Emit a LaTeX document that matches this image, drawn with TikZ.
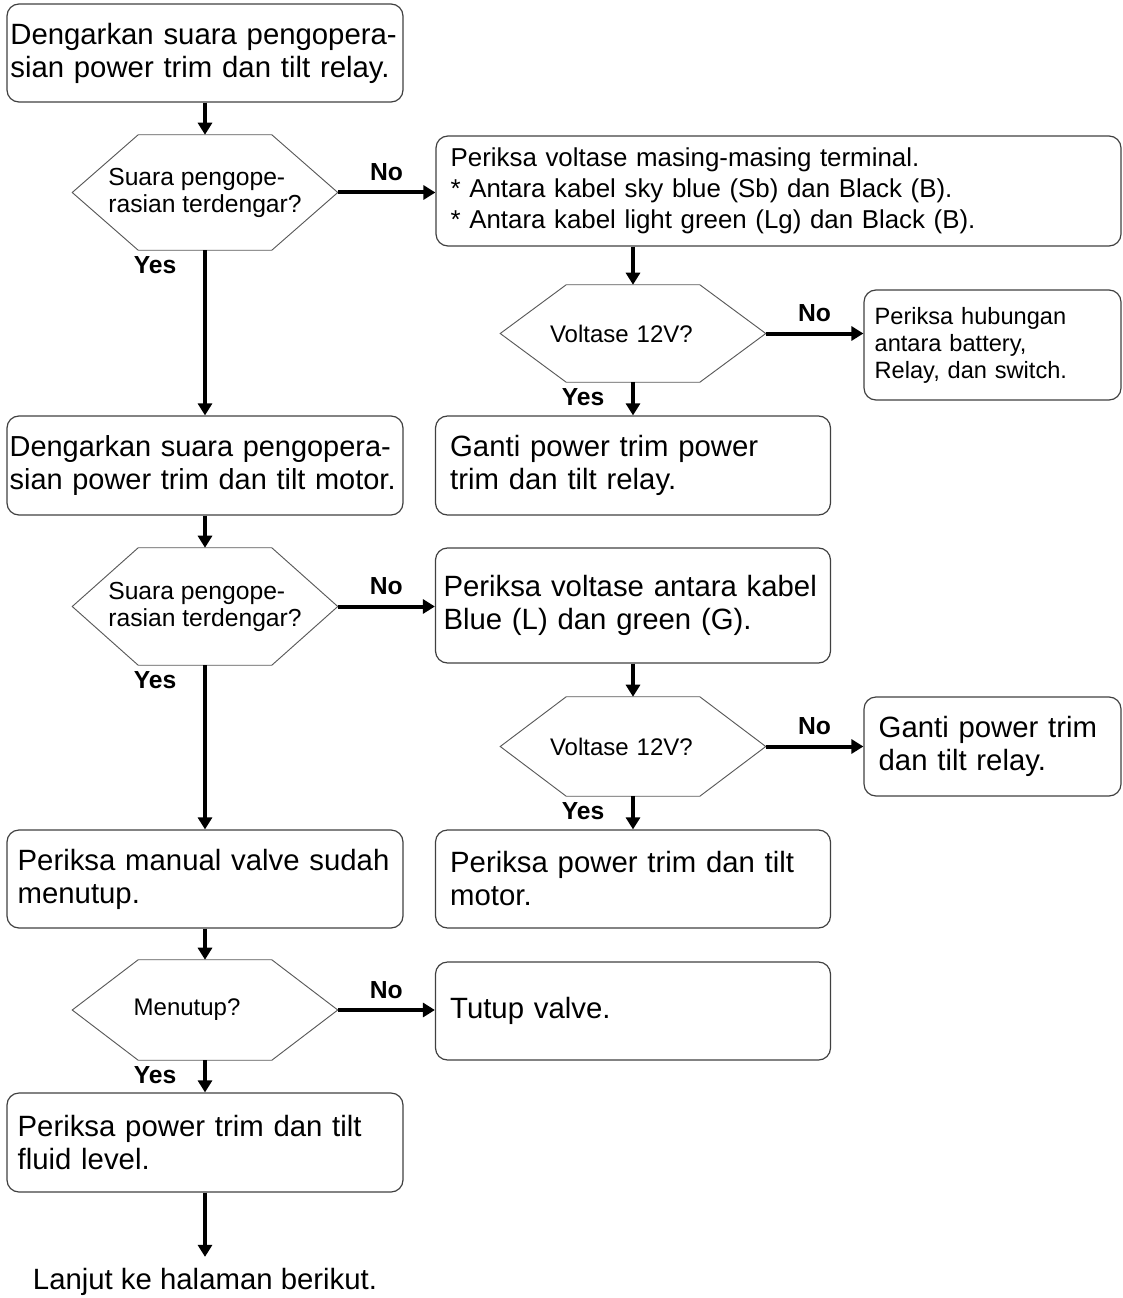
\documentclass[tikz,border=0pt]{standalone}
\usepackage{fontspec}
\setmainfont{Liberation Sans}
\usetikzlibrary{arrows.meta, calc}
\hyphenpenalty=10000
\exhyphenpenalty=10000

\begin{document}
\begin{tikzpicture}[x=0.75pt, y=-0.75pt,
  box/.style={draw=black!75, line width=0.9pt, rounded corners=9pt, align=left, inner ysep=2pt, font=\fontsize{22}{24.75}\selectfont},
  hexa/.style={inner sep=0pt, minimum width=198.75pt, align=left, font=\fontsize{18}{20.25}\selectfont},
  hexline/.style={draw=black!65, line width=0.7pt},
  flow/.style={line width=3pt, -{Triangle[length=9pt, width=10.5pt]}},
  lbl/.style={font=\fontsize{18.5}{20}\selectfont\bfseries, inner sep=3pt}
]
\useasboundingbox (0,0) rectangle (1123,1298);

% ---- Relay ----
\node[box, text width=292pt, inner xsep=2.5pt, minimum height=73.5pt] (relay) at (205,53) {Dengarkan suara pengopera-\\sian power trim dan tilt relay.};
\node[hexa, minimum height=86.25pt, font=\fontsize{18.5}{20.25}\selectfont] (tanya1) at (205,192.5) {Suara pengope-\\rasian terdengar?};
\node[box, text width=491.75pt, inner xsep=11pt, minimum height=82.5pt, font=\fontsize{19.4}{23.25}\selectfont] (volt1) at (778.5,191) {Periksa voltase masing-masing terminal.\\{}* Antara kabel sky blue (Sb) dan Black (B).\\{}* Antara kabel light green (Lg) dan Black (B).};
\node[hexa, text width=124.5pt, minimum height=72.75pt] (tanya2) at (633,333.5) {Voltase 12V?};
\node[box, text width=176.75pt, inner xsep=8pt, minimum height=82.5pt, font=\fontsize{17.7}{20.25}\selectfont] (hubung) at (992.5,345) {Periksa hubungan\\antara battery,\\Relay, dan switch.};
\node[box, text width=274.25pt, inner xsep=11pt, minimum height=74.25pt] (gantirelay1) at (633,465.5) {Ganti power trim power\\trim dan tilt relay.};

% ---- Motor ----
\node[box, text width=293pt, inner xsep=2pt, minimum height=74.25pt, font=\fontsize{21.7}{24.75}\selectfont] (motor) at (205,465.5) {Dengarkan suara pengopera-\\sian power trim dan tilt motor.};
\node[hexa, minimum height=87.75pt, font=\fontsize{18.5}{20.25}\selectfont] (tanya3) at (205,606.5) {Suara pengope-\\rasian terdengar?};
\node[box, text width=284.25pt, inner xsep=6pt, minimum height=86.25pt] (volt2) at (633,605.5) {Periksa voltase antara kabel\\Blue (L) dan green (G).};
\node[hexa, text width=124.5pt, minimum height=74.25pt] (tanya4) at (633,746.5) {Voltase 12V?};
\node[box, text width=170.75pt, inner xsep=11pt, minimum height=74.25pt] (gantirelay2) at (992.5,746.5) {Ganti power trim\\dan tilt relay.};
\node[box, text width=274.25pt, inner xsep=11pt, minimum height=73.5pt] (cekmotor) at (633,879) {Periksa power trim dan tilt\\motor.};

% ---- Manual valve ----
\node[box, text width=281pt, inner xsep=8pt, minimum height=73.5pt] (valve) at (205,879) {Periksa manual valve sudah\\menutup.};
\node[hexa, text width=107pt, minimum height=75pt] (tanya5) at (205,1010) {Menutup?};
\node[box, text width=274.25pt, inner xsep=11pt, minimum height=73.5pt] (tutup) at (633,1011) {Tutup valve.};
\node[box, text width=281pt, inner xsep=8pt, minimum height=74.25pt] (fluid) at (205,1142.5) {Periksa power trim dan tilt\\fluid level.};
\node[font=\fontsize{22}{24.75}\selectfont, inner xsep=0pt, inner ysep=8.4pt] (lanjut) at (205,1282) {Lanjut ke halaman berikut.};

% ---- Segi enam ----
\foreach \h in {tanya1,tanya2,tanya3,tanya4,tanya5}
  \draw[hexline] (\h.west) -- ([xshift=49.5pt]\h.north west) -- ([xshift=-49.5pt]\h.north east) -- (\h.east) -- ([xshift=-49.5pt]\h.south east) -- ([xshift=49.5pt]\h.south west) -- cycle;

% ---- Aliran ----
\draw[flow] (relay) -- (tanya1);
\draw[flow] (tanya1.east) -- (tanya1.east -| volt1.west) node[lbl, midway, above, yshift=4pt] {No};
\draw[flow] (tanya1.south) node[lbl, anchor=north east, xshift=-17pt] {Yes} -- (motor.north);
\draw[flow] (volt1.south -| tanya2.north) -- (tanya2.north);
\draw[flow] (tanya2.east) -- (tanya2.east -| hubung.west) node[lbl, midway, above, yshift=4pt] {No};
\draw[flow] (tanya2.south) node[lbl, anchor=north east, xshift=-17pt] {Yes} -- (gantirelay1.north);
\draw[flow] (motor) -- (tanya3);
\draw[flow] (tanya3.east) -- (tanya3.east -| volt2.west) node[lbl, midway, above, yshift=4pt] {No};
\draw[flow] (tanya3.south) node[lbl, anchor=north east, xshift=-17pt] {Yes} -- (valve.north);
\draw[flow] (volt2) -- (tanya4);
\draw[flow] (tanya4.east) -- (tanya4.east -| gantirelay2.west) node[lbl, midway, above, yshift=4pt] {No};
\draw[flow] (tanya4.south) node[lbl, anchor=north east, xshift=-17pt] {Yes} -- (cekmotor.north);
\draw[flow] (valve) -- (tanya5);
\draw[flow] (tanya5.east) -- (tanya5.east -| tutup.west) node[lbl, midway, above, yshift=4pt] {No};
\draw[flow] (tanya5.south) node[lbl, anchor=north east, xshift=-17pt] {Yes} -- (fluid.north);
\draw[flow] (fluid) -- (lanjut);

\end{tikzpicture}
\end{document}
